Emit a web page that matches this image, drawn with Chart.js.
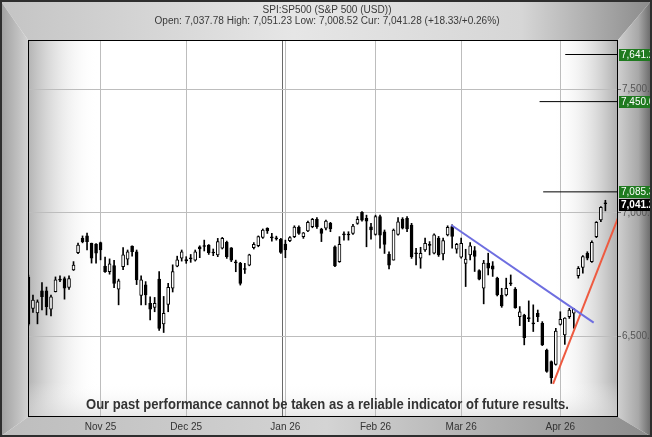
<!DOCTYPE html>
<html><head><meta charset="utf-8">
<script src="https://cdn.jsdelivr.net/npm/chart.js@4.4.0/dist/chart.umd.min.js"></script>
<style>html,body{margin:0;padding:0;background:#fff}#wrap{width:652px;height:437px}</style>
</head><body><div id="wrap"><canvas id="c" width="652" height="437"></canvas></div>
<script>
// ---- data (one candle per trading day, index 0 = first visible session) ----
const opens = [6740,6614,6595,6685,6685,6610,6681,6728,6734,6699,
6769,6839,6897,6907,6877,6874,6880,6785,6762,6787,
6691,6783,6813,6866,6843,6666,6709,6634,6618,6732,
6551,6630,6695,6785,6817,6806,6814,6809,6863,6864,
6870,6838,6830,6857,6881,6859,6798,6796,6771,6789,
6859,6867,6901,6938,6899,6895,6893,6874,6888,6904,
6943,6904,6927,6944,6974,6935,6938,6958,6863,6803,
6911,6911,6917,6958,7002,6978,6944,6913,6985,6924,
6832,6809,6913,6975,6978,6951,6835,6817,6850,6869,
6837,6898,6834,6911,6945,6853,6821,6796,6830,6848,
6767,6695,6797,6786,6736,6668,6668,6713,6692,6580,
6587,6572,6551,6594,6553,6445,6398,6387,6549,6506,
6580,6594,6746,6779,6837,6803,6904,6972,7037.78];
const highs = [6748,6667,6648,6718,6700,6668,6741,6745,6741,6745,
6803,6878,6907,6918,6878,6876,6882,6821,6814,6808,
6732,6860,6850,6867,6850,6745,6722,6660,6658,6763,
6662,6715,6790,6825,6850,6823,6832,6850,6867,6890,
6872,6854,6897,6901,6886,6860,6809,6800,6796,6833,
6880,6907,6935,6940,6917,6906,6897,6890,6904,6948,
6948,6921,6967,6978,6981,6938,6971,6962,6867,6904,
6924,6924,6954,6985,7005,6991,6958,6991,6991,6931,
6843,6935,6981,6981,6985,6958,6857,6861,6898,6884,
6915,6905,6898,6948,6952,6877,6898,6853,6880,6864,
6770,6808,6837,6803,6740,6695,6736,6749,6698,6621,
6590,6644,6628,6607,6560,6449,6401,6533,6600,6576,
6614,6614,6783,6827,6843,6887,6965,7026,7051.23];
const lows = [6545,6597,6551,6607,6587,6583,6680,6722,6651,6690,
6767,6835,6879,6850,6797,6797,6810,6759,6752,6697,
6628,6770,6790,6825,6710,6628,6628,6567,6600,6524,
6516,6600,6680,6782,6805,6796,6800,6805,6819,6846,
6832,6827,6823,6854,6816,6803,6762,6708,6755,6786,
6854,6863,6897,6917,6886,6890,6836,6819,6884,6900,
6913,6897,6924,6940,6937,6884,6931,6924,6782,6800,
6890,6890,6913,6954,6967,6863,6894,6910,6857,6836,
6773,6809,6910,6935,6924,6816,6790,6776,6844,6830,
6834,6824,6810,6907,6857,6837,6817,6702,6810,6763,
6729,6632,6749,6743,6664,6618,6664,6706,6614,6544,
6466,6560,6520,6560,6463,6355,6310,6384,6546,6468,
6573,6533,6736,6756,6810,6800,6900,6965,7008.52];
const closes = [6550,6647,6640,6661,6621,6660,6729,6732,6695,6734,
6789,6870,6884,6884,6817,6837,6850,6762,6794,6715,
6725,6830,6843,6843,6729,6729,6668,6610,6634,6533,
6594,6699,6763,6810,6843,6811,6818,6843,6854,6868,
6839,6842,6884,6897,6823,6809,6802,6715,6775,6830,
6873,6904,6931,6927,6903,6899,6840,6850,6900,6943,
6917,6919,6962,6974,6944,6917,6967,6935,6786,6873,
6915,6914,6947,6974,6971,6967,6931,6985,6910,6873,
6789,6931,6964,6938,6935,6823,6839,6837,6877,6873,
6911,6830,6888,6942,6905,6873,6877,6813,6867,6824,
6732,6797,6776,6772,6668,6624,6695,6717,6617,6600,
6495,6576,6555,6580,6466,6358,6333,6522,6569,6574,
6607,6611,6776,6823,6817,6881,6962,7023,7041.28];

const monthTickIdx = [16, 35, 57, 77, 96, 118];
const monthLabels = ['Nov 25', 'Dec 25', 'Jan 26', 'Feb 26', 'Mar 26', 'Apr 26'];
const yearBreakIdx = 56.4;
const yTickValues = [6500, 7000, 7500];

const levelValues = [7641.25, 7450.6, 7085.3];
const levelStartIdx = [119.1, 113.4, 114.2];
const levelLabels = ['7,641.25', '7,450.60', '7,085.30'];
const currentValue = 7041.28;
const currentLabel = '7,041.28';

const blueLineIdx = [93.8, 125.4];
const blueLineVal = [6951, 6556];
const redLineIdx = [116.4, 131.5];
const redLineVal = [6308, 7012];

const titleText = 'SPI:SP500 (S&P 500 (USD))';
const subtitleText = 'Open: 7,037.78 High: 7,051.23 Low: 7,008.52 Cur: 7,041.28 (+18.33/+0.26%)';
const footerText = 'Our past performance cannot be taken as a reliable indicator of future results.';

// ---- build datasets ----
const X_MIN = -0.1, X_MAX = 130.8;
const idx = opens.map((_, i) => i);
const bodies = idx.map(i => ({x: i, y: [opens[i], closes[i]]}));
const wicks = idx.map(i => ({x: i, y: [lows[i], highs[i]]}));
const isDoji = i => Math.abs(closes[i] - opens[i]) < 7;
const bodyFill = idx.map(i => (closes[i] < opens[i] || isDoji(i)) ? '#000000' : '#ffffff');

const levelSets = levelValues.map((v, k) => ({
  type: 'line', data: [{x: levelStartIdx[k], y: v}, {x: X_MAX, y: v}],
  borderColor: '#000', borderWidth: 1, pointRadius: 0, order: 0
}));

function fitText(ctx, text, cx, y, width, font, color) {
  ctx.save();
  ctx.font = font;
  const w = ctx.measureText(text).width;
  ctx.translate(cx, y);
  ctx.scale(width / w, 1);
  ctx.textAlign = 'center';
  ctx.textBaseline = 'alphabetic';
  ctx.fillStyle = color;
  ctx.fillText(text, 0, 0);
  ctx.restore();
}

const framePlugin = {
  id: 'frame',
  beforeDraw(chart) {
    const ctx = chart.ctx, W = chart.width, H = chart.height, a = chart.chartArea;
    ctx.save();
    // top band
    let g = ctx.createLinearGradient(0, 0, W, 0);
    g.addColorStop(0, '#c4c4c4'); g.addColorStop(0.45, '#e6e6e6'); g.addColorStop(0.8, '#d6d6d6'); g.addColorStop(1, '#8a8a8a');
    ctx.fillStyle = g;
    ctx.beginPath(); ctx.moveTo(0,0); ctx.lineTo(W,0); ctx.lineTo(a.right,a.top); ctx.lineTo(a.left,a.top); ctx.closePath(); ctx.fill();
    // left band
    g = ctx.createLinearGradient(0, 0, a.left, 0);
    g.addColorStop(0, '#9e9e9e'); g.addColorStop(1, '#d2d2d2');
    ctx.fillStyle = g;
    ctx.beginPath(); ctx.moveTo(0,0); ctx.lineTo(a.left,a.top); ctx.lineTo(a.left,a.bottom); ctx.lineTo(0,H); ctx.closePath(); ctx.fill();
    // right band
    g = ctx.createLinearGradient(a.right, 0, W, 0);
    g.addColorStop(0, '#cfcfcf'); g.addColorStop(0.6, '#a8a8a8'); g.addColorStop(1, '#646464');
    ctx.fillStyle = g;
    ctx.beginPath(); ctx.moveTo(W,0); ctx.lineTo(W,H); ctx.lineTo(a.right,a.bottom); ctx.lineTo(a.right,a.top); ctx.closePath(); ctx.fill();
    // bottom band
    g = ctx.createLinearGradient(0, 0, W, 0);
    g.addColorStop(0, '#bdbdbd'); g.addColorStop(0.5, '#d4d4d4'); g.addColorStop(1, '#8c8c8c');
    ctx.fillStyle = g;
    ctx.beginPath(); ctx.moveTo(0,H); ctx.lineTo(a.left,a.bottom); ctx.lineTo(a.right,a.bottom); ctx.lineTo(W,H); ctx.closePath(); ctx.fill();
    // plot area
    ctx.fillStyle = '#ffffff';
    ctx.fillRect(a.left, a.top, a.right - a.left, a.bottom - a.top);
    g = ctx.createLinearGradient(a.left, 0, a.left + 70, 0);
    g.addColorStop(0, 'rgba(175,175,175,0.95)'); g.addColorStop(1, 'rgba(255,255,255,0)');
    ctx.fillStyle = g; ctx.fillRect(a.left, a.top, 70, a.bottom - a.top);
    g = ctx.createLinearGradient(a.right - 65, 0, a.right, 0);
    g.addColorStop(0, 'rgba(255,255,255,0)'); g.addColorStop(1, 'rgba(165,165,165,0.9)');
    ctx.fillStyle = g; ctx.fillRect(a.right - 65, a.top, 65, a.bottom - a.top);
    g = ctx.createLinearGradient(0, a.bottom - 35, 0, a.bottom);
    g.addColorStop(0, 'rgba(255,255,255,0)'); g.addColorStop(1, 'rgba(215,215,215,0.6)');
    ctx.fillStyle = g; ctx.fillRect(a.left, a.bottom - 35, a.right - a.left, 35);
    // titles
    fitText(ctx, titleText, 327, 13, 129, '10px "Liberation Sans", Arial, sans-serif', '#3a3a3a');
    fitText(ctx, subtitleText, 327, 24, 345, '10px "Liberation Sans", Arial, sans-serif', '#3a3a3a');
    ctx.restore();
  },
  afterDatasetsDraw(chart) {
    const ctx = chart.ctx, a = chart.chartArea;
    ctx.save();
    fitText(ctx, footerText, 327.5, 409, 483, 'bold 15px "Liberation Sans Narrow", "Liberation Sans", Arial, sans-serif', '#333333');
    ctx.strokeStyle = '#000'; ctx.lineWidth = 1;
    ctx.strokeRect(Math.round(a.left) + 0.5, Math.round(a.top) + 0.5, Math.round(a.right - a.left) - 1, Math.round(a.bottom - a.top) - 1);
    ctx.restore();
  },
  afterDraw(chart) {
    const ctx = chart.ctx, W = chart.width, H = chart.height, ys = chart.scales.y, a = chart.chartArea;
    ctx.save();
    ctx.font = '10px "Liberation Sans", Arial, sans-serif';
    ctx.textBaseline = 'middle'; ctx.textAlign = 'left';
    levelValues.forEach((v, k) => {
      const y = Math.round(ys.getPixelForValue(v));
      ctx.fillStyle = '#1f7a1f';
      ctx.fillRect(a.right + 1, y - 6, W - a.right, 12);
      ctx.fillStyle = '#ffffff';
      ctx.fillText(levelLabels[k], a.right + 3, y + 0.5);
    });
    const yc = Math.round(ys.getPixelForValue(currentValue)) + 2;
    ctx.fillStyle = '#000000';
    ctx.fillRect(a.right + 1, yc - 6, W - a.right, 12);
    ctx.fillStyle = '#ffffff';
    ctx.font = 'bold 10px "Liberation Sans", Arial, sans-serif';
    ctx.fillText(currentLabel, a.right + 3, yc + 0.5);
    // outer border
    ctx.strokeStyle = '#2e2e2e'; ctx.lineWidth = 2;
    ctx.strokeRect(1, 1, W - 2, H - 2);
    ctx.restore();
  }
};

new Chart(document.getElementById('c'), {
  type: 'bar',
  data: {
    datasets: [
      {type: 'bar', data: bodies, backgroundColor: bodyFill, borderColor: '#000', borderWidth: 1,
       borderSkipped: false, barThickness: 3, grouped: false, order: 1},
      {type: 'bar', data: wicks, backgroundColor: '#000', borderWidth: 0, barThickness: 1, grouped: false, order: 2},
      ...levelSets,
      {type: 'line', data: blueLineIdx.map((x, k) => ({x, y: blueLineVal[k]})), borderColor: '#6e6ee0', borderWidth: 2, pointRadius: 0, order: 0},
      {type: 'line', data: redLineIdx.map((x, k) => ({x, y: redLineVal[k]})), borderColor: '#ee5a40', borderWidth: 2, pointRadius: 0, order: 0}
    ]
  },
  options: {
    responsive: false, animation: false, devicePixelRatio: 1,
    layout: {padding: {left: 28, top: 40, right: 0, bottom: 0}},
    plugins: {legend: {display: false}, tooltip: {enabled: false}, title: {display: false}},
    scales: {
      x: {
        type: 'linear', min: X_MIN, max: X_MAX, offset: false,
        afterBuildTicks: s => { s.ticks = [16, 35, yearBreakIdx, 57, 77, 96, 118].map(v => ({value: v})); },
        afterFit: s => { s.height = 20; },
        ticks: {
          autoSkip: false, maxRotation: 0, padding: 4, color: '#333',
          font: {size: 10, family: '"Liberation Sans", Arial, sans-serif'},
          callback: v => { const k = monthTickIdx.indexOf(v); return k >= 0 ? monthLabels[k] : ''; }
        },
        grid: {offset: false, drawTicks: false, tickLength: 0,
          color: c => (c.tick && c.tick.value === yearBreakIdx) ? '#6a6a6a' : '#bdbdbd', lineWidth: 1},
        border: {display: false}
      },
      y: {
        type: 'linear', position: 'right', min: 6174, max: 7700, beginAtZero: false,
        afterBuildTicks: s => { s.ticks = yTickValues.map(v => ({value: v})); },
        afterFit: s => { s.width = 34; },
        ticks: {
          padding: 1, color: '#555',
          font: {size: 10, family: '"Liberation Sans", Arial, sans-serif'},
          callback: v => v.toLocaleString('en-US', {minimumFractionDigits: 1, maximumFractionDigits: 1})
        },
        grid: {color: '#bdbdbd', tickLength: 3, tickColor: '#666', lineWidth: 1},
        border: {display: false}
      }
    }
  },
  plugins: [framePlugin]
});
</script>
</body></html>
